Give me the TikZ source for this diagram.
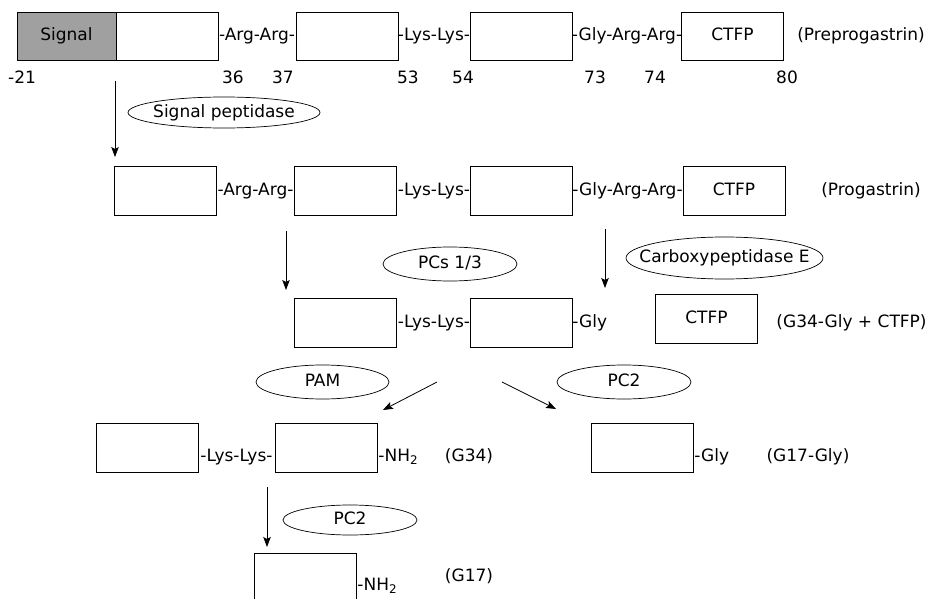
\documentclass[tikz,border=0pt]{standalone}
\usepackage{fontspec}
\setmainfont{DejaVu Sans}
\usepackage{tikz}
\usetikzlibrary{arrows.meta}
\definecolor{signalgray}{RGB}{160,160,160}

\begin{document}
\begin{tikzpicture}[x=1pt, y=-1pt, line width=0.8pt,
  every node/.style={font=\fontsize{17}{20}\selectfont, inner sep=0pt, text height=12.5pt, text depth=3pt},
  seg/.style={draw, minimum width=102pt, minimum height=49pt},
  ring/.style={line width=0.7pt},
  >={Stealth[length=10pt, width=7.5pt, inset=2pt]}]
  \useasboundingbox (0,0) rectangle (927,599);
  % Preprogastrin
  \node[seg, fill=signalgray, minimum width=99pt, minimum height=48pt] (pp-sig) at (66.5,36) {Signal};
  \node[seg, minimum height=48pt] (pp-a) at (167,36) {};
  \node (pp-rr) at (257,36) {-Arg-Arg-};
  \node[seg, minimum height=48pt] (pp-b) at (347,36) {};
  \node (pp-kk) at (434,36) {-Lys-Lys-};
  \node[seg, minimum height=48pt] (pp-c) at (521,36) {};
  \node (pp-grr) at (627,36) {-Gly-Arg-Arg-};
  \node[seg, minimum height=48pt] (pp-ctfp) at (732.5,36) {CTFP};
  \node (pp-name) at (861,36) {(Preprogastrin)};
  \foreach \x/\n in {22/-21, 233/36, 283/37, 408/53, 463/54, 595/73, 655/74, 787/80}
    \node (num\n) at (\x,79) {\n};
  \coordinate (a1) at (115,81);
  \coordinate (a1e) at (115,157);
  \draw[->] (a1) -- (a1e);
  \node (sigpep) at (224,112.5) {Signal peptidase};
  \draw[ring] (sigpep.center) ellipse [x radius=96pt, y radius=15.5pt];
  % Progastrin
  \node[seg] (pg-a) at (165.5,190.5) {};
  \node (pg-rr) at (255.5,190.5) {-Arg-Arg-};
  \node[seg] (pg-b) at (345.5,190.5) {};
  \node (pg-kk) at (434,190.5) {-Lys-Lys-};
  \node[seg] (pg-c) at (521.5,190.5) {};
  \node (pg-grr) at (627.5,190.5) {-Gly-Arg-Arg-};
  \node[seg] (pg-ctfp) at (734,190.5) {CTFP};
  \node (pg-name) at (871,190.5) {(Progastrin)};
  \coordinate (a2) at (286,231);
  \coordinate (a2e) at (286,290);
  \coordinate (a3) at (605,229);
  \coordinate (a3e) at (605,288);
  \draw[->] (a2) -- (a2e);
  \draw[->] (a3) -- (a3e);
  \node (pcs) at (450,264) {PCs 1/3};
  \draw[ring] (pcs.center) ellipse [x radius=67pt, y radius=17pt];
  \node (cpe) at (724.5,258) {Carboxypeptidase E};
  \draw[ring] (cpe.center) ellipse [x radius=98.5pt, y radius=21pt];
  % G34-Gly + CTFP
  \node[seg] (gg-a) at (345.5,322.5) {};
  \node (gg-kk) at (434,322.5) {-Lys-Lys-};
  \node[seg] (gg-b) at (521.5,322.5) {};
  \node[anchor=west] (gg-gly) at (572,322.5) {-Gly};
  \node[seg] (gg-ctfp) at (706.5,318.5) {CTFP};
  \node (gg-name) at (851.5,322.5) {(G34-Gly + CTFP)};
  \node (pam) at (322.5,382) {PAM};
  \draw[ring] (pam.center) ellipse [x radius=66.5pt, y radius=17pt];
  \node (pc2a) at (624,382) {PC2};
  \draw[ring] (pc2a.center) ellipse [x radius=67pt, y radius=17pt];
  \coordinate (a4) at (437,382);
  \coordinate (a4e) at (383,410);
  \coordinate (a5) at (502,382);
  \coordinate (a5e) at (556,409);
  \draw[->] (a4) -- (a4e);
  \draw[->] (a5) -- (a5e);
  % G34 and G17-Gly
  \node[seg] (g34-a) at (147,447.5) {};
  \node (g34-kk) at (236.5,457) {-Lys-Lys-};
  \node[seg] (g34-b) at (326.5,447.5) {};
  \node[anchor=west] (g34-nh) at (378,457) {-NH\textsubscript{2}};
  \node (g34-name) at (469,457) {(G34)};
  \node[seg] (g17g-a) at (642.5,447.5) {};
  \node[anchor=west] (g17g-gly) at (694,457) {-Gly};
  \node (g17g-name) at (808,457) {(G17-Gly)};
  \coordinate (a6) at (267,487);
  \coordinate (a6e) at (267,547);
  \draw[->] (a6) -- (a6e);
  \node (pc2b) at (350,520) {PC2};
  \draw[ring] (pc2b.center) ellipse [x radius=67pt, y radius=15pt];
  % G17
  \node[seg] (g17-a) at (305.5,578) {};
  \node[anchor=west] (g17-nh) at (357,586) {-NH\textsubscript{2}};
  \node (g17-name) at (469,577) {(G17)};
\end{tikzpicture}
\end{document}
